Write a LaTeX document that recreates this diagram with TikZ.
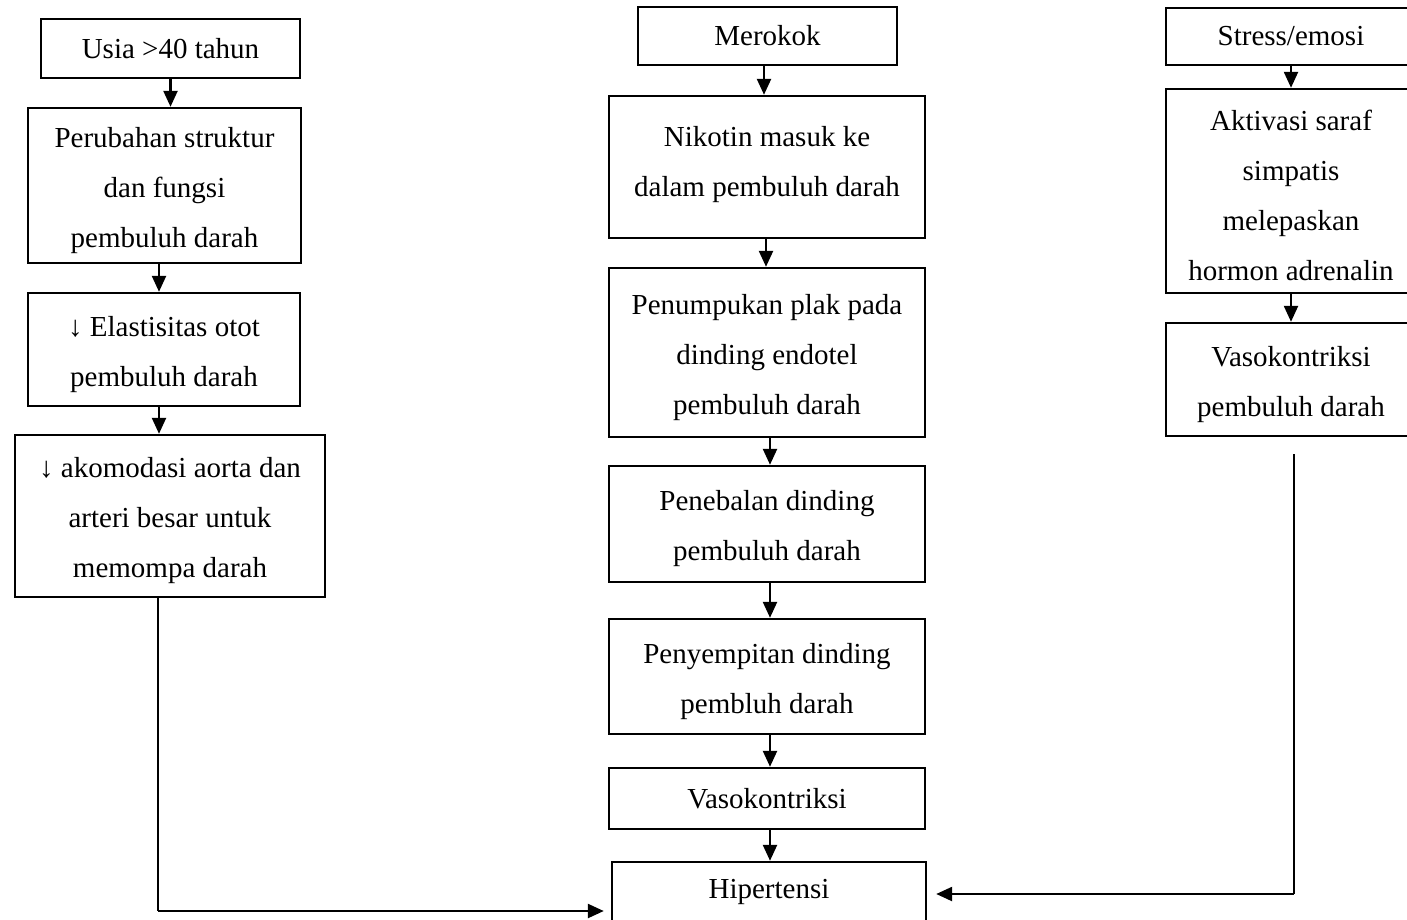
\documentclass[tikz,border=0pt]{standalone}
\usepackage{fontspec}
\setmainfont{Liberation Serif}
\usetikzlibrary{arrows.meta}
% taller first line, so multi-line labels sit a little lower in their boxes
\newcommand\firstline{\rule{0pt}{15pt}}
\begin{document}
\begin{tikzpicture}[x=0.5pt,y=-0.5pt,
  box/.style={draw, line width=1.2pt, align=center, inner sep=0pt,
    font=\fontsize{14.5}{25}\selectfont},
  arr/.style={line width=1.2pt, -{Triangle[length=8pt,width=7pt]}},
  feed/.style={line width=0.6pt}]
\useasboundingbox (0,0) rectangle (1407,920);

% left column: age
\node[box, minimum width=129.5pt, minimum height=29.5pt] (usia) at (170.5,48.5) {Usia >40 tahun};
\node[box, minimum width=136.5pt, minimum height=77.5pt] (perub) at (164.5,185.5) {\firstline Perubahan struktur\\dan fungsi\\pembuluh darah};
\node[box, minimum width=136pt, minimum height=56.5pt] (elast) at (164,349.5) {\firstline↓ Elastisitas otot\\pembuluh darah};
\node[box, minimum width=155pt, minimum height=81pt] (akom) at (170,516) {\firstline↓ akomodasi aorta dan\\arteri besar untuk\\memompa darah};

% middle column: smoking
\node[box, minimum width=129.5pt, minimum height=29pt] (rokok) at (767.5,36) {Merokok};
\node[box, minimum width=158pt, minimum height=71pt] (nikotin) at (767,167) {Nikotin masuk ke\\dalam pembuluh darah\\[-19.5pt]};
\node[box, minimum width=158pt, minimum height=84.5pt] (plak) at (767,352.5) {\firstline Penumpukan plak pada\\dinding endotel\\pembuluh darah};
\node[box, minimum width=158pt, minimum height=58pt] (tebal) at (767,524) {\firstline Penebalan dinding\\pembuluh darah};
\node[box, minimum width=158pt, minimum height=57.5pt] (sempit) at (767,676.5) {\firstline Penyempitan dinding\\pembluh darah};
\node[box, minimum width=158pt, minimum height=30.5pt] (vaso) at (767,798.5) {Vasokontriksi};
\node[box, minimum width=157pt, minimum height=30pt] (hiper) at (769,892) {Hipertensi};

% right column: stress
\node[box, minimum width=125pt, minimum height=28.5pt] (stress) at (1291,36.5) {Stress/emosi};
\node[box, minimum width=125pt, minimum height=102pt] (saraf) at (1291,191) {\firstline Aktivasi saraf\\simpatis\\melepaskan\\hormon adrenalin};
\node[box, minimum width=125pt, minimum height=56.5pt] (vasor) at (1291,379.5) {\firstline Vasokontriksi\\pembuluh darah};

% arrows within the columns
\draw[arr] (usia.south) -- (usia.south |- perub.north);
\draw[arr] (perub.south -| 159,0) -- (elast.north -| 159,0);
\draw[arr] (elast.south -| 159,0) -- (akom.north -| 159,0);

\draw[arr] (rokok.south -| 764,0) -- (nikotin.north -| 764,0);
\draw[arr] (nikotin.south -| 766,0) -- (plak.north -| 766,0);
\draw[arr] (plak.south -| 770,0) -- (tebal.north -| 770,0);
\draw[arr] (tebal.south -| 770,0) -- (sempit.north -| 770,0);
\draw[arr] (sempit.south -| 770,0) -- (vaso.north -| 770,0);
\draw[arr] (vaso.south -| 770,0) -- (hiper.north -| 770,0);

\draw[arr] (stress.south) -- (saraf.north);
\draw[arr] (saraf.south) -- (vasor.north);

% feeds into hypertension
\coordinate (lc) at (158,911);
\draw[feed] (akom.south -| lc) -- (lc);
\draw[arr, shorten >=3.5pt] (lc) -- (lc -| hiper.west);

\coordinate (rtop) at (1294,454);
\coordinate (rc) at (1294,894);
\draw[feed] (rtop) -- (rc);
\draw[arr, shorten >=4.5pt] (rc) -- (rc -| hiper.east);
\end{tikzpicture}
\end{document}
